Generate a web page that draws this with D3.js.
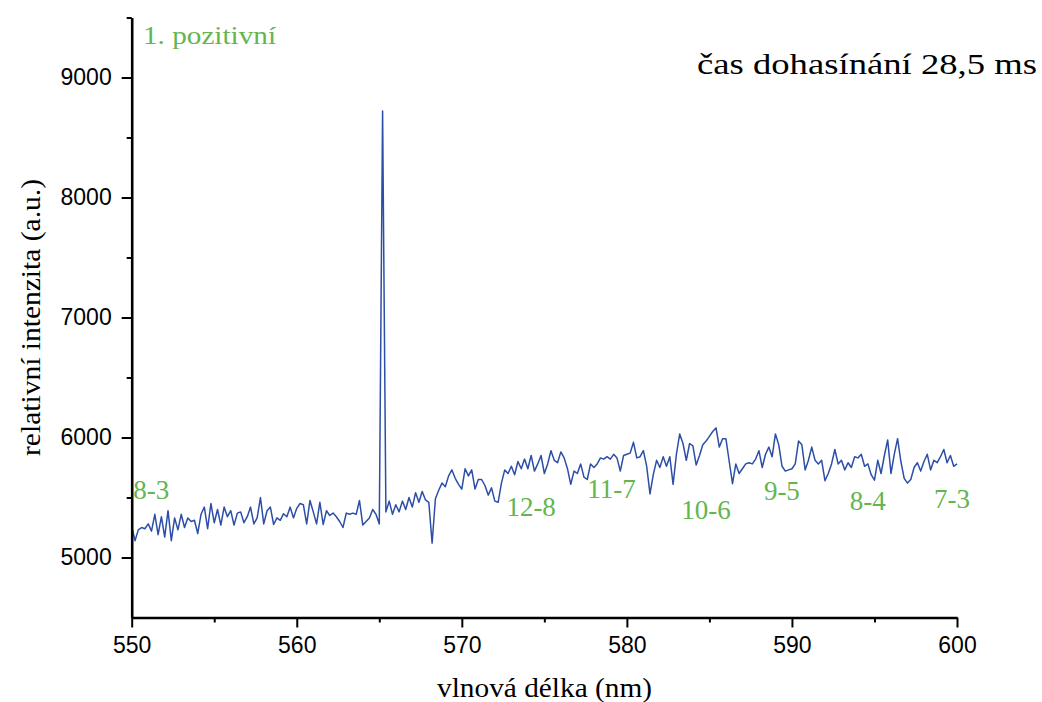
<!DOCTYPE html>
<html>
<head>
<meta charset="utf-8">
<script src="https://cdn.jsdelivr.net/npm/d3@7"></script>
<style>
  html, body { margin: 0; padding: 0; background: #fff; }
  svg { display: block; }
</style>
</head>
<body>
<svg id="chart" width="1042" height="702"></svg>
<script>
// ---- data ----
const wavelengthStart = 550;   // nm
const wavelengthStep = 0.2;    // nm, sampling grid
const intensity = [
  5260, 5140, 5230, 5250, 5240,
  5280, 5220, 5360, 5190, 5340,
  5170, 5390, 5140, 5330, 5230,
  5360, 5250, 5330, 5300, 5310,
  5200, 5360, 5420, 5240, 5450,
  5290, 5400, 5270, 5420, 5340,
  5390, 5270, 5370, 5380, 5290,
  5340, 5420, 5280, 5330, 5500,
  5280, 5390, 5420, 5275, 5330,
  5310, 5365, 5340, 5420, 5330,
  5410, 5450, 5440, 5280, 5475,
  5380, 5280, 5460, 5275, 5390,
  5350, 5370, 5340, 5300, 5250,
  5370, 5360, 5370, 5360, 5475,
  5270, 5300, 5330, 5400, 5360,
  5280, 8720, 5380, 5470, 5360,
  5440, 5380, 5470, 5400, 5500,
  5420, 5540, 5460, 5550, 5480,
  5460, 5120, 5490, 5560, 5620,
  5590, 5680, 5730, 5660, 5610,
  5570, 5740, 5680, 5730, 5570,
  5650, 5650, 5600, 5520, 5580,
  5470, 5460, 5620, 5730, 5700,
  5760, 5690, 5800, 5740, 5820,
  5740, 5850, 5720, 5780, 5850,
  5700, 5780, 5890, 5810, 5790,
  5880, 5830, 5740, 5610, 5720,
  5700, 5780, 5670, 5650, 5780,
  5750, 5780, 5830, 5820, 5840,
  5820, 5860, 5830, 5720, 5850,
  5860, 5870, 5960, 5830, 5840,
  5890, 5760, 5530, 5690, 5810,
  5750, 5840, 5760, 5840, 5610,
  5860, 6030, 5950, 5810, 5950,
  5930, 5770, 5850, 5940, 5970,
  6010, 6050, 6080, 5920, 5990,
  5990, 5800, 5615, 5780, 5700,
  5740, 5780, 5790, 5780, 5820,
  5890, 5750, 5860, 5920, 5840,
  6030, 5940, 5760, 5720, 5730,
  5740, 5780, 5970, 5940, 5730,
  5810, 5920, 5810, 5780, 5810,
  5640, 5700, 5780, 5900, 5780,
  5810, 5730, 5790, 5750, 5840,
  5830, 5860, 5760, 5780, 5690,
  5645, 5810, 5700, 5850, 5980,
  5700, 5860, 5990, 5800, 5660,
  5620, 5650, 5750, 5790, 5720,
  5800, 5860, 5730, 5810, 5790,
  5840, 5900, 5790, 5850, 5760,
  5780
];
const xMajorTicks = [550, 560, 570, 580, 590, 600];
const xMinorTicks = [555, 565, 575, 585, 595];
const yMajorTicks = [5000, 6000, 7000, 8000, 9000];
const yMinorTicks = [5500, 6500, 7500, 8500, 9500];
const bandLabels = ["8-3", "12-8", "11-7", "10-6", "9-5", "8-4", "7-3"];
const bandLabelWavelengths = [550.1, 572.7, 577.6, 583.3, 588.3, 593.5, 598.6];
const bandLabelLevels = [5490, 5350, 5500, 5320, 5480, 5400, 5410];
const systemLabel = "1. pozitivní";
const timeLabel = "čas dohasínání 28,5 ms";
const xTitle = "vlnová délka (nm)";
const yTitle = "relativní intenzita (a.u.)";

// ---- drawing ----
const svg = d3.select("#chart");
const x = d3.scaleLinear().domain([550, 600]).range([131.7, 957]);
const y = d3.scaleLinear().domain([4500, 9500]).range([617.5, 17.5]);

const points = intensity.map((v, i) => [wavelengthStart + i * wavelengthStep, v]);

const line = d3.line().x(d => x(d[0])).y(d => y(d[1]));
svg.append("path")
  .datum(points)
  .attr("d", line)
  .attr("fill", "none")
  .attr("stroke", "#2c4ea6")
  .attr("stroke-width", 1.5)
  .attr("stroke-linejoin", "round");

const sans = "'Liberation Sans', Arial, sans-serif";
const serif = "'Liberation Serif', 'Times New Roman', serif";

// x axis
const gx = svg.append("g").attr("transform", `translate(0,${y(4500)})`);
gx.call(d3.axisBottom(x).tickValues(xMajorTicks).tickSize(10).tickSizeOuter(0).tickPadding(9).tickFormat(d3.format("d")));
const gxm = svg.append("g").attr("transform", `translate(0,${y(4500)})`);
gxm.call(d3.axisBottom(x).tickValues(xMinorTicks).tickSize(5).tickSizeOuter(0).tickFormat(""));
gxm.select(".domain").remove();

// y axis
const gy = svg.append("g").attr("transform", `translate(${x(550)},0)`);
gy.call(d3.axisLeft(y).tickValues(yMajorTicks).tickSize(10).tickSizeOuter(0).tickPadding(10).tickFormat(d3.format("d")));
const gym = svg.append("g").attr("transform", `translate(${x(550)},0)`);
gym.call(d3.axisLeft(y).tickValues(yMinorTicks).tickSize(5).tickSizeOuter(0).tickFormat(""));
gym.select(".domain").remove();

svg.selectAll(".domain").attr("stroke", "#000").attr("stroke-width", 2.6);
svg.selectAll(".tick line").attr("stroke", "#000").attr("stroke-width", 2);
svg.selectAll(".tick text").attr("font-family", sans).attr("font-size", 23).attr("fill", "#000");

// axis titles
svg.append("text")
  .attr("x", 437).attr("y", 697)
  .attr("font-family", serif).attr("font-size", 27)
  .attr("textLength", 215).attr("lengthAdjust", "spacingAndGlyphs")
  .text(xTitle);

svg.append("text")
  .attr("transform", `translate(40,${y(7000) + 0}) rotate(-90)`)
  .attr("text-anchor", "middle")
  .attr("font-family", serif).attr("font-size", 27)
  .attr("textLength", 277).attr("lengthAdjust", "spacingAndGlyphs")
  .text(yTitle);

// annotations
svg.append("text")
  .attr("x", 143).attr("y", 44)
  .attr("font-family", serif).attr("font-size", 26)
  .attr("fill", "#63b54f")
  .attr("textLength", 133).attr("lengthAdjust", "spacingAndGlyphs")
  .text(systemLabel);

svg.append("text")
  .attr("x", 697).attr("y", 74)
  .attr("font-family", serif).attr("font-size", 30)
  .attr("fill", "#000")
  .attr("textLength", 340).attr("lengthAdjust", "spacingAndGlyphs")
  .text(timeLabel);

svg.selectAll(".band")
  .data(bandLabels)
  .enter().append("text")
  .attr("class", "band")
  .attr("x", (d, i) => x(bandLabelWavelengths[i]))
  .attr("y", (d, i) => y(bandLabelLevels[i]))
  .attr("font-family", serif).attr("font-size", 27)
  .attr("fill", "#63b54f")
  .text(d => d);
</script>
</body>
</html>
